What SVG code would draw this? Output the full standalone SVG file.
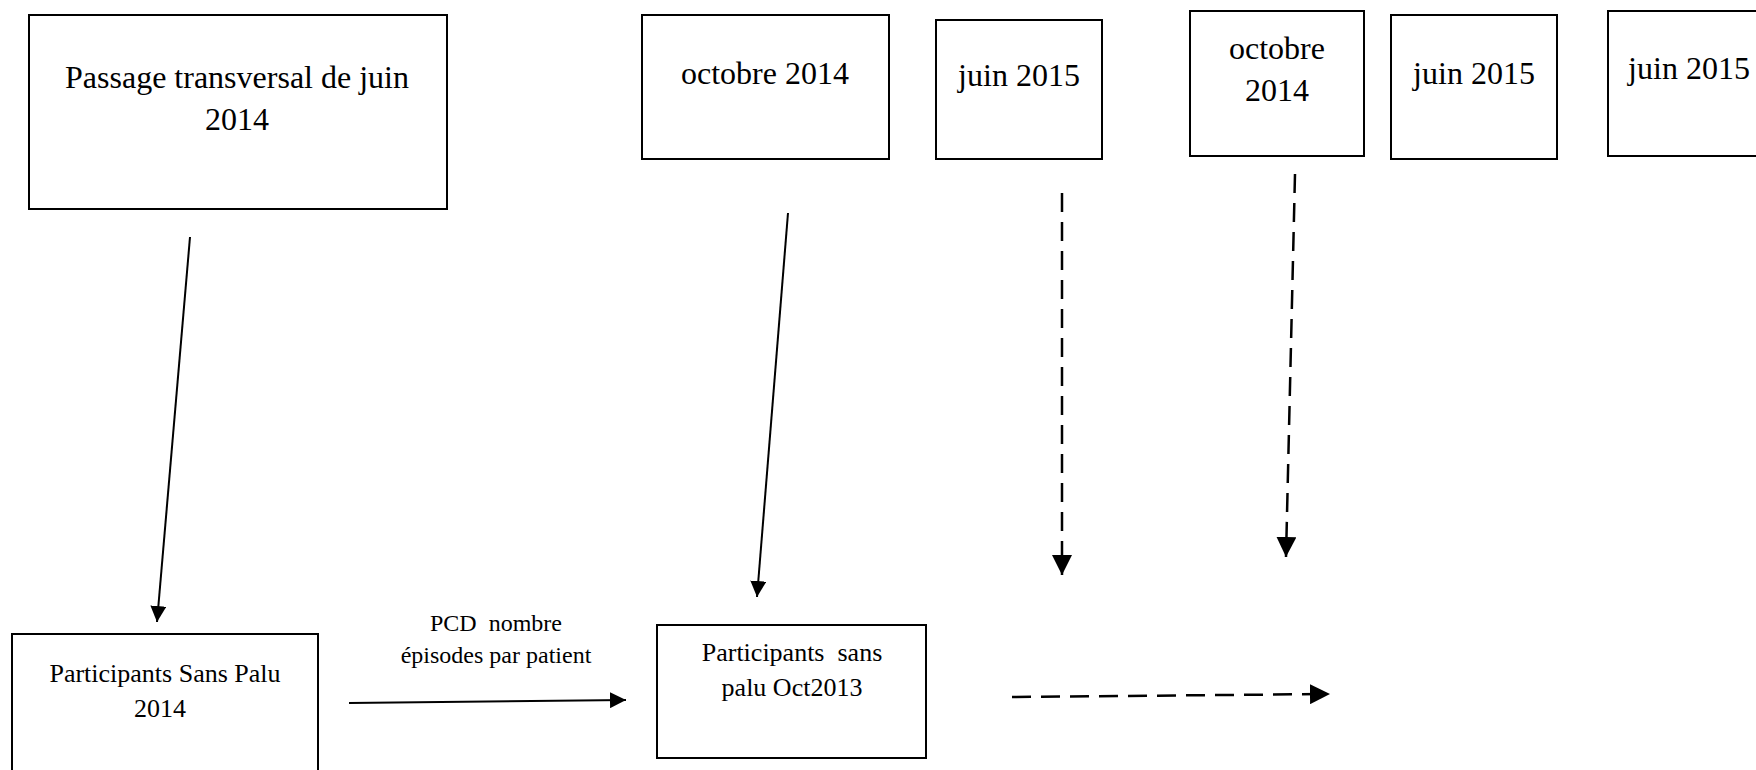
<svg xmlns="http://www.w3.org/2000/svg" width="1756" height="770" viewBox="0 0 1756 770">
<style>
.box{fill:#fff;stroke:#000;stroke-width:2}
.t{font-family:"Liberation Serif","Times New Roman",serif;fill:#000;text-anchor:middle}
.big{font-size:32px}
.mid{font-size:26px}
.sm{font-size:24px}
.ln{stroke:#000;stroke-width:2;fill:none}
.dash{stroke-width:2.5;stroke-dasharray:19 10}
</style>
<defs>
<marker id="ahp" viewBox="0 0 10 10" refX="10" refY="5" markerWidth="8" markerHeight="8" orient="auto">
<path d="M0,0 L10,5 L0,10 Z" fill="#000"/>
</marker>
</defs>
<rect width="1756" height="770" fill="#fff"/>
<g id="n1"><rect class="box" x="29" y="15" width="418" height="194"/>
<text class="t big" x="237" y="88">Passage transversal de juin</text>
<text class="t big" x="237" y="130">2014</text></g>
<g id="n2"><rect class="box" x="642" y="15" width="247" height="144"/>
<text class="t big" x="765" y="84">octobre 2014</text></g>
<g id="n3"><rect class="box" x="936" y="20" width="166" height="139"/>
<text class="t big" x="1019" y="86">juin 2015</text></g>
<g id="n4"><rect class="box" x="1190" y="11" width="174" height="145"/>
<text class="t big" x="1277" y="59">octobre</text>
<text class="t big" x="1277" y="101">2014</text></g>
<g id="n5"><rect class="box" x="1391" y="15" width="166" height="144"/>
<text class="t big" x="1474" y="84">juin 2015</text></g>
<g id="n6"><rect class="box" x="1608" y="11" width="170" height="145"/>
<text class="t big" x="1689" y="79">juin 2015</text></g>
<g id="n7"><rect class="box" x="12" y="634" width="306" height="150"/>
<text class="t mid" x="165" y="682">Participants Sans Palu</text>
<text class="t mid" x="160" y="717">2014</text></g>
<g id="n8"><rect class="box" x="657" y="625" width="269" height="133"/>
<text class="t mid" x="792" y="661" xml:space="preserve">Participants  sans</text>
<text class="t mid" x="792" y="696">palu Oct2013</text></g>
<g id="lbl">
<text class="t sm" x="496" y="631" xml:space="preserve">PCD  nombre</text>
<text class="t sm" x="496" y="663">épisodes par patient</text>
</g>
<g id="connectors">
<path class="ln" d="M190,237 L157,622" marker-end="url(#ahp)"/>
<path class="ln" d="M788,213 L757,597" marker-end="url(#ahp)"/>
<path class="ln dash" d="M1062,193 L1062,575" marker-end="url(#ahp)"/>
<path class="ln dash" d="M1295,174 L1286,557" marker-end="url(#ahp)"/>
<path class="ln" d="M349,703 L626,700" marker-end="url(#ahp)"/>
<path class="ln dash" d="M1012,697 L1330,694" marker-end="url(#ahp)"/>
</g>
</svg>
